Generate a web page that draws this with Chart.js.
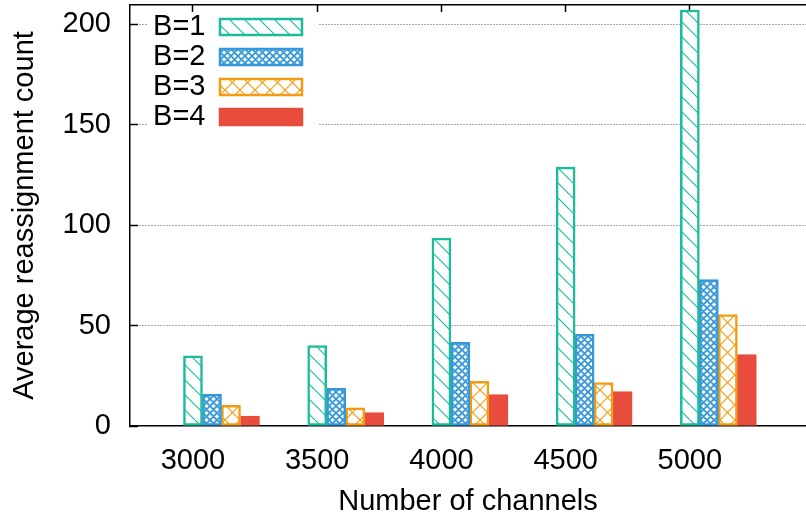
<!DOCTYPE html>
<html lang="en">
<head>
<meta charset="UTF-8">
<title>Average reassignment count</title>
<script src="https://cdn.jsdelivr.net/npm/chart.js@4.4.1/dist/chart.umd.min.js"></script>
<style>
  body { margin: 0; background: #fff; }
  canvas { display: block; }
</style>
</head>
<body>
<canvas id="chart" width="806" height="521"></canvas>
<script>
  // values
  const channels = ['3000', '3500', '4000', '4500', '5000'];
  const seriesNames = ['B=1', 'B=2', 'B=3', 'B=4'];
  const countB1 = [34.9, 40.1, 93.5, 128.9, 207.1];
  const countB2 = [15.9, 18.8, 41.7, 45.7, 72.9];
  const countB3 = [10.3, 9.0, 22.3, 21.6, 55.5];
  const countB4 = [5.0, 6.7, 15.6, 17.1, 35.6];
  const yTicks = [0, 50, 100, 150, 200];

  const colors = ['#1abc9c', '#3498db', '#f39c12', '#e74c3c'];
  const barStep = 0.153; // width of one bar, in group units

  Chart.defaults.font.family = "'Liberation Sans', Arial, sans-serif";
  Chart.defaults.font.size = 29;
  Chart.defaults.color = '#000';

  // gnuplot-like fill patterns: white ground with hatch lines
  function hatch(color, size, dirs, lw) {
    const c = document.createElement('canvas');
    c.width = c.height = size;
    const g = c.getContext('2d');
    g.fillStyle = '#fff';
    g.fillRect(0, 0, size, size);
    g.strokeStyle = color;
    g.lineWidth = lw;
    g.beginPath();
    for (let k = -size; k <= size; k += size) {
      if (dirs.includes('\\')) { g.moveTo(k, 0); g.lineTo(k + size, size); }
      if (dirs.includes('/')) { g.moveTo(k, size); g.lineTo(k + size, 0); }
    }
    g.stroke();
    return g.createPattern(c, 'repeat');
  }

  const fills = [
    hatch(colors[0], 15, '\\', 1.2),
    hatch(colors[1], 7, '\\/', 1.8),
    hatch(colors[2], 15, '\\/', 1.2),
    colors[3]
  ];
  const seriesData = [countB1, countB2, countB3, countB4];

  const setTicks = list => scale => { scale.ticks = list.map(v => ({ value: v })); };
  const groupTicks = channels.map((_, i) => i);
  const noPad = s => { s.paddingLeft = s.paddingRight = s.paddingTop = s.paddingBottom = 0; };

  // legend sits inside the plot with a white box behind it (covers the grid)
  const keyBox = {
    id: 'keyBox',
    afterLayout(chart) {
      const lg = chart.legend;
      lg.left = 303 - lg.width;
      lg.top = 11.5;
      lg.bottom = lg.top + 130;
    },
    beforeDatasetsDraw(chart) {
      const lg = chart.legend;
      const ctx = chart.ctx;
      ctx.save();
      ctx.fillStyle = '#fff';
      ctx.fillRect(lg.left + 4, 13, lg.width + 12, 122);
      ctx.restore();
      lg.draw();
    }
  };

  new Chart(document.getElementById('chart'), {
    type: 'bar',
    data: {
      datasets: seriesData.map((vals, i) => ({
        label: seriesNames[i],
        data: vals.map((v, g) => ({ x: g + i * barStep, y: v })),
        backgroundColor: fills[i],
        borderColor: colors[i],
        borderWidth: 2.5,
        borderSkipped: false,
        grouped: false,
        categoryPercentage: 1,
        barPercentage: 1
      }))
    },
    options: {
      responsive: false,
      animation: false,
      layout: { padding: 0 },
      plugins: {
        tooltip: { enabled: false },
        legend: {
          position: 'chartArea',
          align: 'start',
          rtl: true,
          labels: { boxWidth: 82, boxHeight: 16, padding: 1, color: '#000', font: { size: 29 } }
        }
      },
      scales: {
        x: {
          type: 'linear',
          offset: false,
          min: -0.507,
          max: 4.935,
          afterBuildTicks: setTicks(groupTicks),
          afterFit: s => { s.height = 95; noPad(s); },
          ticks: { callback: v => channels[v], padding: 10, maxRotation: 0, autoSkip: false },
          grid: { display: false, offset: false },
          border: { color: '#000', width: 1.5 },
          title: { display: true, text: 'Number of channels', padding: { top: 0, bottom: 2 } }
        },
        x2: {
          type: 'linear',
          position: 'top',
          offset: false,
          min: -0.507,
          max: 4.935,
          afterBuildTicks: setTicks(groupTicks),
          afterFit: s => { s.height = 5; noPad(s); },
          ticks: { display: false },
          grid: { offset: false, drawOnChartArea: false, tickLength: -7, tickColor: '#000', tickWidth: 1.5 },
          border: { color: '#000', width: 1.5 }
        },
        y: {
          min: 0,
          max: 209.6,
          afterBuildTicks: setTicks(yTicks),
          afterFit: s => { s.width = 130; noPad(s); },
          ticks: { padding: 27 },
          grid: {
            color: c => (c.tick && c.tick.value === 0) ? 'rgba(0,0,0,0)' : '#555',
            tickLength: -8,
            tickColor: '#000',
            tickWidth: 1.5,
            tickBorderDash: []
          },
          border: { color: '#000', width: 1.5, dash: [1, 2] },
          title: { display: true, text: 'Average reassignment count', padding: { top: 8, bottom: 0 } }
        }
      }
    },
    plugins: [keyBox]
  });
</script>
</body>
</html>
